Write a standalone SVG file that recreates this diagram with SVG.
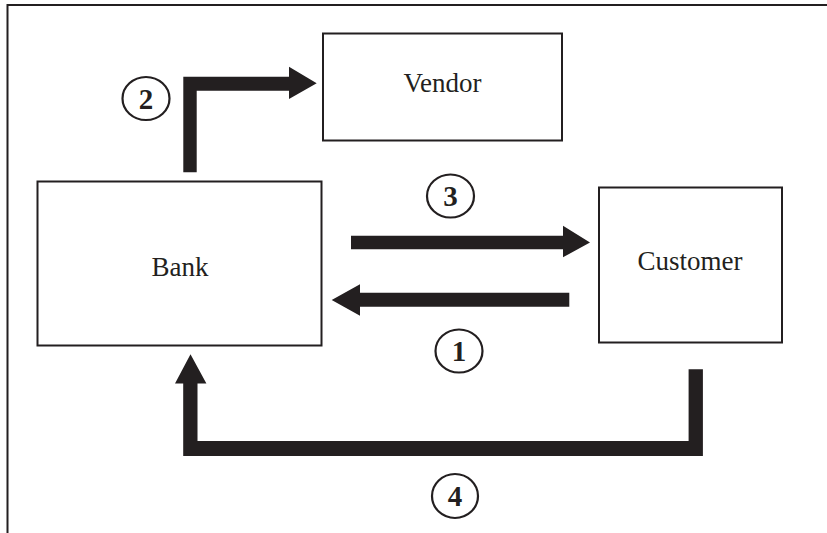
<svg xmlns="http://www.w3.org/2000/svg" width="827" height="533" viewBox="0 0 827 533">
<style>
.box{fill:#fff;stroke:#231f20;stroke-width:2}
.lbl{font-family:"Liberation Serif","Times New Roman",serif;font-size:27px;fill:#231f20;text-anchor:middle}
.num{font-family:"Liberation Serif","Times New Roman",serif;font-size:29px;font-weight:bold;fill:#231f20;text-anchor:middle}
.ring{fill:#fff;stroke:#231f20;stroke-width:2.2}
.arr{fill:#231f20;stroke:none}
.frame{fill:none;stroke:#231f20;stroke-width:2}
</style>
<rect width="827" height="533" fill="#fff"/>
<path class="frame" d="M7.5,533 V5 H827"/>
<g id="vendor">
<rect class="box" x="323" y="33.5" width="239" height="107"/>
<text class="lbl" x="442.5" y="92">Vendor</text>
</g>
<g id="bank">
<rect class="box" x="37.5" y="181.5" width="284" height="164"/>
<text class="lbl" x="180" y="276">Bank</text>
</g>
<g id="customer">
<rect class="box" x="599" y="187.5" width="183" height="155"/>
<text class="lbl" x="690" y="270">Customer</text>
</g>
<g id="connectors">
<path class="arr" d="M183.3,172.3 V76.7 H289 V66.7 L316.7,83.3 L289,99 V90.7 H196.7 V172.3 Z"/>
<path class="arr" d="M351,235.7 H563 V225.7 L590,242.5 L563,257.3 V249.3 H351 Z"/>
<path class="arr" d="M569.3,292.7 H360 V284.3 L331.7,300 L360,315.7 V306.7 H569.3 Z"/>
<path class="arr" d="M702.9,369.3 V456 H183.2 V383.6 H175 L190.5,354.3 L206.4,383.6 H197.5 V441 H688.6 V369.3 Z"/>
</g>
<g id="labels">
<ellipse class="ring" cx="146" cy="98.5" rx="23.5" ry="21.5"/>
<text class="num" x="146" y="108.5">2</text>
<ellipse class="ring" cx="450.5" cy="196" rx="23.5" ry="21.5"/>
<text class="num" x="450.5" y="205.5">3</text>
<ellipse class="ring" cx="459" cy="351" rx="23.5" ry="21.5"/>
<text class="num" x="459" y="361">1</text>
<ellipse class="ring" cx="455" cy="496" rx="23" ry="22"/>
<text class="num" x="455" y="506">4</text>
</g>
</svg>
